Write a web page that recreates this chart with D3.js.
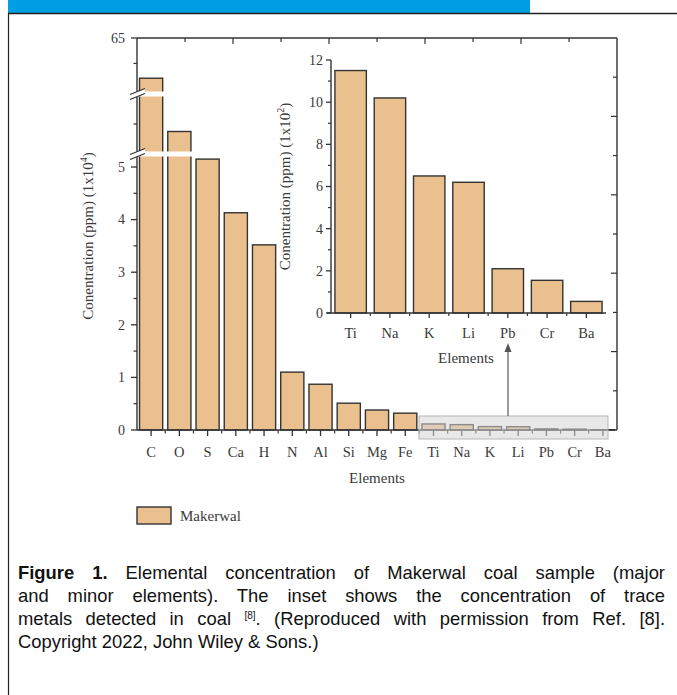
<!DOCTYPE html>
<html>
<head>
<meta charset="utf-8">
<script src="https://cdn.jsdelivr.net/npm/d3@7"></script>
<style>
  body { margin: 0; background: #fff; }
  #wrap { position: relative; width: 677px; height: 695px; overflow: hidden; }
  svg { position: absolute; left: 0; top: 0; }
  .caption { position: absolute; left: 18px; top: 561px; width: 647px;
    font-family: "Liberation Sans", Arial, sans-serif; font-size: 18.4px; line-height: 23px; color: #111; }
  .caption .j { text-align: justify; text-align-last: justify; white-space: nowrap; }
  .caption sup { font-size: 10px; vertical-align: 6px; line-height: 0; }
</style>
</head>
<body>
<div id="wrap">
  <svg id="chart" width="677" height="695"></svg>
  <div class="caption">
    <div class="j"><b>Figure 1.</b> Elemental concentration of Makerwal coal sample (major</div>
    <div class="j">and minor elements). The inset shows the concentration of trace</div>
    <div class="j">metals detected in coal <sup>[8]</sup>. (Reproduced with permission from Ref. [8].</div>
    <div>Copyright 2022, John Wiley &amp; Sons.)</div>
  </div>
</div>
<script>
// main chart data (x10^4 ppm)
const elements = ['C', 'O', 'S', 'Ca', 'H', 'N', 'Al', 'Si', 'Mg', 'Fe', 'Ti', 'Na', 'K', 'Li', 'Pb', 'Cr', 'Ba'];
const majorValues = [57.1, 8.5, 5.15, 4.13, 3.52, 1.1, 0.87, 0.51, 0.38, 0.32, 0.115, 0.102, 0.065, 0.062, 0.021, 0.0155, 0.0055];
const mainTicks = [0, 1, 2, 3, 4, 5, 65];
const mainMinorTicks = [0.5, 1.5, 2.5, 3.5, 4.5, 9, 60];

// inset data (x10^2 ppm)
const traceElements = ['Ti', 'Na', 'K', 'Li', 'Pb', 'Cr', 'Ba'];
const traceValues = [11.5, 10.2, 6.5, 6.2, 2.1, 1.55, 0.55];
const insetTicks = [0, 2, 4, 6, 8, 10, 12];

const serif = '"Liberation Serif", "Times New Roman", serif';
const barFill = '#ebc08f';
const ink = '#333';
const textInk = '#3a3a3a';

const svg = d3.select('#chart');

// page frame
svg.append('rect').attr('x', 8).attr('y', 0).attr('width', 522).attr('height', 13).attr('fill', '#019ee3');
svg.append('line').attr('x1', 8).attr('x2', 677).attr('y1', 13.5).attr('y2', 13.5).attr('stroke', '#222').attr('stroke-width', 1.5);
svg.append('line').attr('x1', 8.5).attr('x2', 8.5).attr('y1', 13).attr('y2', 695).attr('stroke', '#222').attr('stroke-width', 1.2);

// main plot area
const plotL = 137, plotR = 617, plotT = 38, plotB = 430;

const x = d3.scaleBand().domain(elements).range([plotL, plotR]).paddingInner(0.18).paddingOuter(0.09);
// broken axis: three segments
const y = d3.scaleLinear()
    .domain([0, 5.247, 7, 11, 54, 65])
    .range([plotB, 154, 154, 94, 94, plotT]);
const breaks = [154, 94];

const g = svg.append('g');

// bars
g.selectAll('rect.bar')
    .data(elements.map((e, i) => ({ e, v: majorValues[i] })))
    .enter()
    .append('rect')
    .attr('class', 'bar')
    .attr('x', d => x(d.e))
    .attr('y', d => y(d.v))
    .attr('width', x.bandwidth())
    .attr('height', d => plotB - y(d.v))
    .attr('fill', barFill)
    .attr('stroke', ink)
    .attr('stroke-width', 1.4);

// left axis
const yAxis = g.append('g').attr('transform', `translate(${plotL},0)`);
yAxis.append('line').attr('y1', plotT).attr('y2', plotB).attr('stroke', ink).attr('stroke-width', 1.4);
yAxis.selectAll('line.maj').data(mainTicks).enter().append('line')
    .attr('x1', -6).attr('x2', 0).attr('y1', d => y(d)).attr('y2', d => y(d))
    .attr('stroke', ink).attr('stroke-width', 1.3);
yAxis.selectAll('line.min').data(mainMinorTicks).enter().append('line')
    .attr('x1', -3.5).attr('x2', 0).attr('y1', d => y(d)).attr('y2', d => y(d))
    .attr('stroke', ink).attr('stroke-width', 1.2);
yAxis.selectAll('text').data(mainTicks).enter().append('text')
    .attr('x', -12).attr('y', d => y(d)).attr('dy', '0.35em')
    .attr('text-anchor', 'end')
    .style('font-family', serif).style('font-size', '14px').attr('fill', textInk)
    .text(d => d);

// axis breaks
breaks.forEach(yb => {
    g.append('rect').attr('x', plotL - 1).attr('y', yb - 2.5).attr('width', plotR - plotL).attr('height', 5).attr('fill', '#fff');
    g.append('polygon')
        .attr('points', `130,${yb + 5.5} 145,${yb - 0.5} 145,${yb - 5.5} 130,${yb + 0.5}`)
        .attr('fill', '#fff');
    [-2.5, 2.5].forEach(off => {
        g.append('line')
            .attr('x1', 130).attr('y1', yb + off + 3)
            .attr('x2', 145).attr('y2', yb + off - 3)
            .attr('stroke', ink).attr('stroke-width', 1.2);
    });
});

// bottom axis
const xAxis = g.append('g');
xAxis.append('line').attr('x1', plotL).attr('x2', plotR).attr('y1', plotB).attr('y2', plotB).attr('stroke', ink).attr('stroke-width', 1.4);
xAxis.selectAll('line.c').data(elements).enter().append('line')
    .attr('x1', d => x(d) + x.bandwidth() / 2).attr('x2', d => x(d) + x.bandwidth() / 2)
    .attr('y1', plotB).attr('y2', plotB + 6).attr('stroke', ink).attr('stroke-width', 1.3);
xAxis.selectAll('line.b').data(elements.slice(1)).enter().append('line')
    .attr('x1', d => x(d) - x.step() * x.paddingInner() / 2).attr('x2', d => x(d) - x.step() * x.paddingInner() / 2)
    .attr('y1', plotB).attr('y2', plotB + 3.5).attr('stroke', ink).attr('stroke-width', 1.2);
xAxis.selectAll('text').data(elements).enter().append('text')
    .attr('x', d => x(d) + x.bandwidth() / 2).attr('y', plotB + 27)
    .attr('text-anchor', 'middle')
    .style('font-family', serif).style('font-size', '14.5px').attr('fill', textInk)
    .text(d => d);

// top and right frame axes with plain ticks
const frame = d3.scaleLinear().domain([0, 10]);
const fx = frame.copy().range([plotL, plotR]);
const fy = frame.copy().range([plotB, plotT]);
g.append('line').attr('x1', plotL).attr('x2', plotR).attr('y1', plotT).attr('y2', plotT).attr('stroke', ink).attr('stroke-width', 1.4);
g.append('line').attr('x1', plotR).attr('x2', plotR).attr('y1', plotT).attr('y2', plotB).attr('stroke', ink).attr('stroke-width', 1.4);
g.selectAll('line.tt').data(d3.range(1, 10)).enter().append('line')
    .attr('x1', d => fx(d)).attr('x2', d => fx(d))
    .attr('y1', plotT).attr('y2', d => plotT + (d % 2 === 0 ? 6 : 4))
    .attr('stroke', ink).attr('stroke-width', 1.2);
g.selectAll('line.rt').data(d3.range(1, 10)).enter().append('line')
    .attr('x1', plotR).attr('x2', d => plotR - (d % 2 === 0 ? 6 : 4))
    .attr('y1', d => fy(d)).attr('y2', d => fy(d))
    .attr('stroke', ink).attr('stroke-width', 1.2);

// axis titles
svg.append('text')
    .attr('transform', `translate(93,${(plotT + plotB) / 2 + 2}) rotate(-90)`)
    .attr('text-anchor', 'middle')
    .style('font-family', serif).style('font-size', '15px').attr('fill', textInk)
    .html('Conentration (ppm) (1x10<tspan dy="-6" font-size="10">4</tspan><tspan dy="6">)</tspan>');
svg.append('text')
    .attr('x', (plotL + plotR) / 2).attr('y', 483)
    .attr('text-anchor', 'middle')
    .style('font-family', serif).style('font-size', '15px').attr('fill', textInk)
    .text('Elements');

// inset
const ix = d3.scaleBand().domain(traceElements).range([331, 606]).paddingInner(0.2).paddingOuter(0.1);
const iy = d3.scaleLinear().domain([0, 12]).range([313, 60]);
const inset = svg.append('g');

inset.selectAll('rect')
    .data(traceElements.map((e, i) => ({ e, v: traceValues[i] })))
    .enter()
    .append('rect')
    .attr('x', d => ix(d.e))
    .attr('y', d => iy(d.v))
    .attr('width', ix.bandwidth())
    .attr('height', d => iy(0) - iy(d.v))
    .attr('fill', barFill)
    .attr('stroke', ink)
    .attr('stroke-width', 1.4);

inset.append('line').attr('x1', 331).attr('x2', 331).attr('y1', 60).attr('y2', 313).attr('stroke', ink).attr('stroke-width', 1.4);
inset.append('line').attr('x1', 327).attr('x2', 606).attr('y1', 313).attr('y2', 313).attr('stroke', ink).attr('stroke-width', 1.4);
inset.selectAll('line.maj').data(insetTicks).enter().append('line')
    .attr('x1', 326).attr('x2', 331).attr('y1', d => iy(d)).attr('y2', d => iy(d))
    .attr('stroke', ink).attr('stroke-width', 1.3);
inset.selectAll('line.min').data(d3.range(1, 12, 2)).enter().append('line')
    .attr('x1', 328).attr('x2', 331).attr('y1', d => iy(d)).attr('y2', d => iy(d))
    .attr('stroke', ink).attr('stroke-width', 1.2);
inset.selectAll('text.yl').data(insetTicks).enter().append('text')
    .attr('x', 323).attr('y', d => iy(d)).attr('dy', '0.35em')
    .attr('text-anchor', 'end')
    .style('font-family', serif).style('font-size', '14px').attr('fill', textInk)
    .text(d => d);
inset.selectAll('line.c').data(traceElements).enter().append('line')
    .attr('x1', d => ix(d) + ix.bandwidth() / 2).attr('x2', d => ix(d) + ix.bandwidth() / 2)
    .attr('y1', 313).attr('y2', 318).attr('stroke', ink).attr('stroke-width', 1.3);
inset.selectAll('line.b').data(traceElements.slice(1)).enter().append('line')
    .attr('x1', d => ix(d) - ix.step() * ix.paddingInner() / 2).attr('x2', d => ix(d) - ix.step() * ix.paddingInner() / 2)
    .attr('y1', 313).attr('y2', 316).attr('stroke', ink).attr('stroke-width', 1.2);
inset.selectAll('text.xl').data(traceElements).enter().append('text')
    .attr('x', d => ix(d) + ix.bandwidth() / 2).attr('y', 338)
    .attr('text-anchor', 'middle')
    .style('font-family', serif).style('font-size', '14.5px').attr('fill', textInk)
    .text(d => d);
inset.append('text')
    .attr('x', 466).attr('y', 363)
    .attr('text-anchor', 'middle')
    .style('font-family', serif).style('font-size', '15px').attr('fill', textInk)
    .text('Elements');
inset.append('text')
    .attr('transform', `translate(290,${(60 + 313) / 2}) rotate(-90)`)
    .attr('text-anchor', 'middle')
    .style('font-family', serif).style('font-size', '15px').attr('fill', textInk)
    .html('Conentration (ppm) (1x10<tspan dy="-6" font-size="10">2</tspan><tspan dy="6">)</tspan>');

// highlight box and arrow
svg.append('rect')
    .attr('x', 419).attr('y', 416).attr('width', 189).attr('height', 23)
    .attr('fill', '#d6d6d6').attr('fill-opacity', 0.55)
    .attr('stroke', '#b5b5b5').attr('stroke-width', 1);
svg.append('line').attr('x1', 508).attr('x2', 508).attr('y1', 416).attr('y2', 350)
    .attr('stroke', '#666').attr('stroke-width', 1.3);
svg.append('path').attr('d', 'M508,343 L504.5,352 L511.5,352 Z').attr('fill', '#555');

// legend
svg.append('rect').attr('x', 137).attr('y', 507).attr('width', 34).attr('height', 17)
    .attr('fill', barFill).attr('stroke', ink).attr('stroke-width', 1.4);
svg.append('text').attr('x', 180).attr('y', 521)
    .style('font-family', serif).style('font-size', '15px').attr('fill', textInk)
    .text('Makerwal');
</script>
</body>
</html>
